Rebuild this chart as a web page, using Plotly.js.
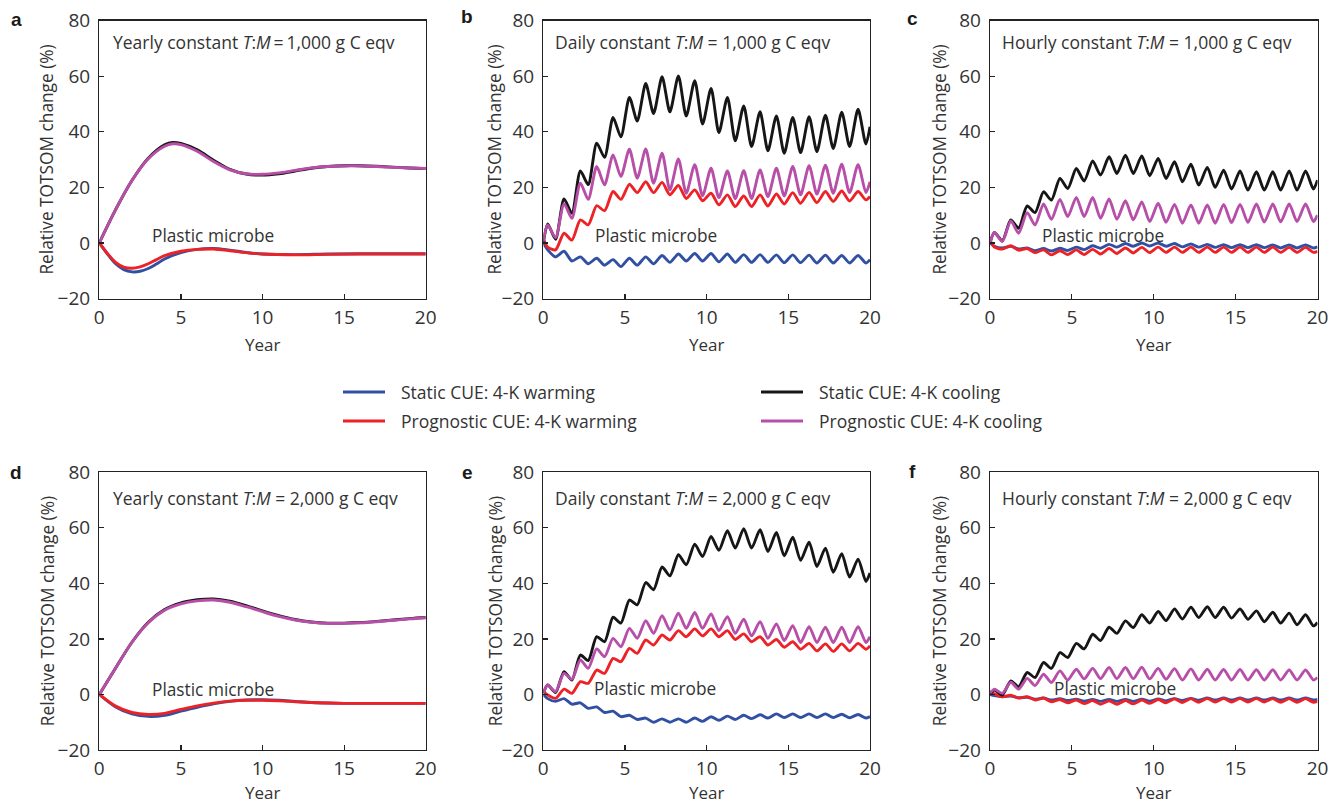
<!DOCTYPE html>
<html>
<head>
<meta charset="utf-8">
<script src="https://cdn.plot.ly/plotly-3.0.1.min.js"></script>
<style>html,body{margin:0;padding:0;background:#fff;}#chart{width:1338px;height:805px;}</style>
</head>
<body>
<div id="chart"></div>
<script>
// ---------- DATA ----------
// Yearly-constant panels (smooth)
var yearA = [0,1,2,3,4,4.5,5,6,7,8,9,10,11,12,13,14,15,16,17,18,19,20];
var aStaticCool = [0,12,22.5,30.5,35.3,36.2,35.8,33.5,29.8,26.5,24.8,24.4,24.9,25.9,26.9,27.5,27.8,27.8,27.6,27.3,27,26.8];
var aProgCool   = [0,12,22.5,30.3,34.8,35.7,35.4,33,29.3,26.3,24.9,24.7,25.2,26.1,27,27.5,27.7,27.7,27.5,27.2,27,26.8];
var yearA2 = [0,0.5,1,1.5,2,2.5,3,3.5,4,5,6,7,8,9,10,12,14,16,18,20];
var aStaticWarm = [0,-4,-7.5,-9.6,-10.4,-10.2,-9.2,-7.6,-5.8,-3.5,-2.3,-2.0,-2.6,-3.4,-4.0,-4.2,-4.0,-3.9,-3.9,-3.9];
var aProgWarm   = [0,-3.8,-7,-8.7,-9.1,-8.6,-7.5,-6,-4.6,-3,-2.3,-2.2,-2.8,-3.5,-4.0,-4.3,-4.1,-4.0,-4.0,-4.0];

var yearD = [0,1,2,3,4,5,6,7,8,9,10,11,12,13,14,15,16,17,18,19,20];
var dStaticCool = [0,9.5,18.8,26,30.6,33.0,34.1,34.4,33.6,32.0,30.1,28.4,27.0,26.1,25.7,25.7,25.9,26.3,26.8,27.3,27.7];
var dProgCool   = [0,9.5,18.8,25.8,30.3,32.6,33.7,34.0,33.2,31.6,29.8,28.1,26.8,26.0,25.6,25.6,25.8,26.2,26.7,27.2,27.6];
var dStaticWarm = [0,-4.5,-7,-7.9,-7.5,-6,-4.6,-3.4,-2.5,-2,-1.9,-2.1,-2.5,-2.9,-3.1,-3.2,-3.2,-3.2,-3.2,-3.2,-3.2];
var dProgWarm   = [0,-4.2,-6.5,-7.2,-6.8,-5.4,-4.1,-3.1,-2.4,-2.1,-2.1,-2.3,-2.6,-2.9,-3.1,-3.2,-3.2,-3.2,-3.2,-3.2,-3.2];

// Seasonal panels: values read at seasonal peaks and troughs
var yearS = [0,0.27,0.75,1.27,1.75,2.27,2.75,3.27,3.75,4.27,4.75,5.27,5.75,6.27,6.75,7.27,7.75,8.27,8.75,9.27,9.75,
             10.27,10.75,11.27,11.75,12.27,12.75,13.27,13.75,14.27,14.75,15.27,15.75,16.27,16.75,17.27,17.75,18.27,18.75,19.27,19.75,20];

var bStaticCool = [0,6.8,1.3,15.8,10.7,25.9,21,35.9,30.8,45.2,38.2,52.4,43.9,57.4,46.6,59.8,47.2,60.1,45.7,58.4,42.8,
                   55.6,39.7,52.4,36.8,49.3,34.7,47.2,33.2,45.7,32.3,45.2,32.5,45.4,32.9,46.0,34.0,47.1,34.7,48.1,35.6,41.8];
var bProgCool   = [0.5,6.5,1.9,14,8.9,21.5,15.7,27.5,20.9,31.7,23.9,33.7,23.3,33.8,21.5,32.3,19.1,30.2,17.9,28.2,17,
                   26.9,16.3,25.9,15.9,26,16,26.3,16.7,26.9,16.9,27.5,17.3,27.8,17.6,28,17.9,28.3,18.1,28.2,18.1,22];
var bProgWarm   = [1.5,-1.5,-2.5,3.5,1,8.3,6.5,13.4,11.6,18.5,15.7,21.1,18.1,22,18.1,21.8,17.3,20.7,16,19.1,15.2,
                   17.9,13.7,17.3,13.1,16.9,13.1,17.3,13.3,17.6,14,18.1,14.3,18.2,14.5,18.5,14.9,18.7,15.1,18.5,15.5,16.7];
var bStaticWarm = [0,-2.5,-5,-3,-6.5,-5,-7.5,-5.5,-8,-6,-8.5,-5.5,-8,-5,-7.5,-4.5,-7,-4,-6.5,-3.8,-6.5,
                   -3.8,-6.8,-4,-7,-4.2,-7,-4.2,-7,-4.3,-7.1,-4.3,-7.1,-4.4,-7.2,-4.4,-7.2,-4.5,-7.2,-4.5,-7.2,-6];

var cStaticCool = [0,3.8,0.8,8.3,5.3,13.3,10.9,18.4,15.4,23.2,19.6,26.8,22.3,29.5,24.4,31,25,31.6,25,31.3,24.2,
                   30.4,23.2,29.2,22,28.3,20.8,27.2,20,26.2,19.4,25.9,19,25.6,19,25.6,19,25.9,19,25.9,19.4,22.6];
var cProgCool   = [0,3.8,0.5,7.9,3.5,10.9,6.5,14,8.5,15.7,9.5,16.4,9.5,16.4,8.9,15.8,8.5,15.2,8.3,14.8,7.7,
                   14.3,7.4,13.9,7.1,13.7,7.1,13.7,7.1,13.9,7.3,13.9,7.4,14,7.5,14,7.6,14,7.7,14,7.7,10];
var cProgWarm   = [1,-1.5,-2.2,-1,-2.6,-2,-3.5,-2.5,-4.3,-2.8,-4.2,-2.5,-4.2,-2.3,-4,-2,-3.8,-1.8,-3.6,-1.6,-3.5,
                   -1.5,-3.4,-1.5,-3.4,-1.5,-3.4,-1.5,-3.4,-1.5,-3.4,-1.5,-3.4,-1.5,-3.4,-1.5,-3.4,-1.6,-3.4,-1.6,-3.4,-3];
var cStaticWarm = [0,-1.2,-1.8,-1.2,-2.2,-1.8,-2.8,-2,-2.9,-1.9,-2.7,-1.5,-2.4,-1,-1.9,-0.5,-1.5,-0.2,-1.2,0,-1.1,
                   0,-1.2,-0.2,-1.4,-0.4,-1.5,-0.5,-1.6,-0.6,-1.7,-0.6,-1.7,-0.6,-1.7,-0.7,-1.8,-0.7,-1.8,-0.7,-1.8,-1.4];

var eStaticCool = [0.5,3.4,0.7,8.2,5.2,14.2,12.2,20.8,19,27.8,25.7,34,32.3,40.3,37.7,45.9,42.7,50.3,46.7,54.1,49.7,
                   56.9,51.9,59,52.7,59.7,52.7,59.3,51.5,58.3,49.9,56.6,48.3,54.8,46.1,52.7,44,50.7,42.3,48.7,40.7,43.7];
var eProgCool   = [0.5,3.4,1,7.6,5.5,12.4,9.4,16.4,13.6,20.2,17.2,23.8,20.2,26.6,22,28.4,23.2,29.3,23.8,29.5,23.8,
                   29,23,28,22,27.1,21.1,26.2,20.2,25.4,19.4,24.8,18.7,24.4,18.7,24.2,18.7,24.2,18.7,24.4,18.7,20.8];
var eProgWarm   = [1,-0.2,-1.4,1.9,0.4,4.6,4,8.8,7.6,13,11.8,16.6,14.8,19.6,17.8,21.4,19.6,23,20.8,23.6,21.1,
                   23.6,20.8,23,19.8,21.8,19,20.8,17.8,19.8,17,19,16.3,18.4,15.7,18.2,15.5,18.2,15.7,18.4,16.3,17.5];
var eStaticWarm = [0,-1.5,-2.5,-1.5,-3.5,-3,-5,-4.5,-6.5,-6,-8,-7.5,-9,-8.5,-10,-8.8,-10,-8.8,-10,-8.5,-9.7,
                   -8,-9.3,-7.8,-9,-7.5,-8.7,-7.3,-8.5,-7,-8.3,-7,-8.3,-7,-8.3,-7,-8.3,-7.1,-8.4,-7.2,-8.5,-8];

var fStaticCool = [0,1.6,-0.2,4.9,2.8,7.9,6.1,11.5,9.4,15.1,13.3,18.4,16.4,21.7,19.4,24.2,22,26.5,24.1,28.7,25.7,
                   29.9,26.6,30.8,27.2,31.4,27.7,31.6,27.7,31.4,27.5,30.8,27.1,30.1,26.2,29.6,25.7,29.3,25.1,28.7,24.7,25.9];
var fProgCool   = [0.5,1.9,0.4,4.4,1.9,5.8,3.2,7.3,4.3,8.5,5.2,9.1,5.6,9.4,5.7,9.7,5.7,9.7,5.7,9.8,5.6,
                   9.4,5.5,9.3,5.2,9.2,5.2,9.1,5.2,9.0,5.2,9.0,5.2,8.9,5.2,8.9,5.2,8.8,5.2,8.8,5.2,6.1];
var fProgWarm   = [1.2,0.2,-0.8,-0.3,-1.3,-0.8,-2,-1.3,-2.6,-1.8,-3,-2,-3.3,-2.2,-3.5,-2.3,-3.5,-2.2,-3.4,-2,-3.2,
                   -1.8,-3,-1.6,-2.9,-1.5,-2.8,-1.4,-2.7,-1.4,-2.7,-1.4,-2.7,-1.4,-2.7,-1.5,-2.8,-1.5,-2.8,-1.5,-2.8,-2.5];
var fStaticWarm = [0,-0.4,-0.8,-0.6,-1.2,-1,-1.7,-1.3,-2,-1.5,-2.2,-1.7,-2.4,-1.8,-2.5,-1.8,-2.5,-1.8,-2.5,-1.7,-2.4,
                   -1.6,-2.3,-1.5,-2.2,-1.4,-2.1,-1.3,-2,-1.3,-2,-1.3,-2,-1.3,-2,-1.3,-2,-1.3,-2,-1.3,-2,-1.8];

var panelLetters = ['a','b','c','d','e','f'];
var panelTitles = [
  'Yearly constant <i>T</i>:<i>M</i>\u2009=\u20091,000 g C eqv',
  'Daily constant <i>T</i>:<i>M</i> = 1,000 g C eqv',
  'Hourly constant <i>T</i>:<i>M</i> = 1,000 g C eqv',
  'Yearly constant <i>T</i>:<i>M</i> = 2,000 g C eqv',
  'Daily constant <i>T</i>:<i>M</i> = 2,000 g C eqv',
  'Hourly constant <i>T</i>:<i>M</i> = 2,000 g C eqv'
];
var seriesNames = ['Static CUE: 4-K warming','Prognostic CUE: 4-K warming','Static CUE: 4-K cooling','Prognostic CUE: 4-K cooling'];
var xTickVals = [0,5,10,15,20];
var yTickVals = [-20,0,20,40,60,80];
var xTitle = 'Year';
var yTitle = 'Relative TOTSOM change (%)';
var annoText = 'Plastic microbe';

// ---------- STYLE / LAYOUT ----------
var W = 1338, H = 805;
var colors = {sw:'#3150a3', pw:'#ec2227', sc:'#161616', pc:'#b74fa8'};
var FONT = 'Open Sans, Liberation Sans, sans-serif';
var TXT = '#333333';

var panels = [
  {x:yearA2, sw:aStaticWarm, xw2:yearA2, pw:aProgWarm, xc:yearA, sc:aStaticCool, pc:aProgCool},
  {x:yearS, sw:bStaticWarm, xw2:yearS, pw:bProgWarm, xc:yearS, sc:bStaticCool, pc:bProgCool},
  {x:yearS, sw:cStaticWarm, xw2:yearS, pw:cProgWarm, xc:yearS, sc:cStaticCool, pc:cProgCool},
  {x:yearD, sw:dStaticWarm, xw2:yearD, pw:dProgWarm, xc:yearD, sc:dStaticCool, pc:dProgCool},
  {x:yearS, sw:eStaticWarm, xw2:yearS, pw:eProgWarm, xc:yearS, sc:eStaticCool, pc:eProgCool},
  {x:yearS, sw:fStaticWarm, xw2:yearS, pw:fProgWarm, xc:yearS, sc:fStaticCool, pc:fProgCool}
];

// pixel boxes of the plot areas
var colPx = [[99.3,425.7],[543.3,870],[990,1317.5]];
var rowPx = [[20.7,298.5],[472.3,750]];
var letterPx = [[16,19],[467,17],[912,18],[16,472],[467,472],[912,471]];
var yTitlePxX = [47,495,940,47,495,939];
var plasticPos = [[3.1,2.8],[3.02,2.8],[3.07,2.8],[3.1,1.9],[3.0,2.0],[3.76,2.0]];
var titlePos = [[0.72,72.2],[0.61,72.2],[0.63,72.2],[0.72,70.9],[0.61,70.9],[0.6,70.9]];
var xTitleY = [344, 792];

var data = [];
var layout = {
  width: W, height: H,
  margin: {l:0, r:0, t:0, b:0},
  paper_bgcolor: '#fff', plot_bgcolor: '#fff',
  showlegend: false,
  font: {family: FONT, color: TXT, size: 17},
  annotations: [], shapes: []
};

panels.forEach(function(p, i){
  var n = i + 1;
  var xa = n === 1 ? 'x' : 'x' + n;
  var ya = n === 1 ? 'y' : 'y' + n;
  var lw = 2.9;
  var sm = (i === 0 || i === 3) ? 1 : 0.7;
  var tr = [
    {x:p.x, y:p.sw, c:colors.sw, nm:seriesNames[0]},
    {x:p.xw2, y:p.pw, c:colors.pw, nm:seriesNames[1]},
    {x:p.xc, y:p.sc, c:colors.sc, nm:seriesNames[2]},
    {x:p.xc, y:p.pc, c:colors.pc, nm:seriesNames[3]}
  ];
  tr.forEach(function(t){
    data.push({x:t.x, y:t.y, xaxis:xa, yaxis:ya, type:'scatter', mode:'lines', name:t.nm,
      line:{color:t.c, width:lw, shape:'spline', smoothing:sm}, hoverinfo:'skip'});
  });
  var col = colPx[i % 3], row = rowPx[Math.floor(i / 3)];
  var axX = {
    domain:[col[0]/W, col[1]/W], range:[0,20], tickvals:xTickVals, ticks:'inside', ticklen:5, tickwidth:1.2,
    tickcolor:'#222', showline:true, linecolor:'#222', linewidth:1.3, mirror:true, showgrid:false, zeroline:false,
    anchor: ya, tickfont:{size:19, color:TXT, family:FONT}, ticklabelstandoff:1, fixedrange:true
  };
  var axY = {
    domain:[1 - row[1]/H, 1 - row[0]/H], range:[-20,80], tickvals:yTickVals, ticks:'inside', ticklen:5, tickwidth:1.2,
    tickcolor:'#222', showline:true, linecolor:'#222', linewidth:1.3, mirror:true, showgrid:false, zeroline:false,
    anchor: xa, tickfont:{size:19, color:TXT, family:FONT}, ticklabelstandoff:4, fixedrange:true
  };
  layout['xaxis' + (n === 1 ? '' : n)] = axX;
  layout['yaxis' + (n === 1 ? '' : n)] = axY;

  // panel letter
  layout.annotations.push({xref:'paper', yref:'paper', x:letterPx[i][0]/W, y:1 - letterPx[i][1]/H,
    xanchor:'center', yanchor:'middle', showarrow:false, text:'<b>' + panelLetters[i] + '</b>',
    font:{family:'Liberation Sans, Arial, sans-serif', size:19, color:'#1a1a1a'}});
  // in-panel title
  layout.annotations.push({xref:xa, yref:ya, x:titlePos[i][0], y:titlePos[i][1], xanchor:'left', yanchor:'middle',
    showarrow:false, text:panelTitles[i], font:{family:FONT, size:17.5, color:TXT}});
  // plastic microbe label
  layout.annotations.push({xref:xa, yref:ya, x:plasticPos[i][0], y:plasticPos[i][1], xanchor:'left', yanchor:'middle',
    showarrow:false, text:annoText, font:{family:FONT, size:17.3, color:TXT}});
  // axis titles
  layout.annotations.push({xref:'paper', yref:'paper', x:yTitlePxX[i]/W, y:1 - ((row[0]+row[1])/2)/H,
    xanchor:'center', yanchor:'middle', textangle:-90, showarrow:false, text:yTitle, font:{family:FONT, size:17.3, color:TXT}});
  layout.annotations.push({xref:xa + ' domain', yref:'paper', x:0.5, y:1 - xTitleY[Math.floor(i / 3)]/H,
    xanchor:'center', yanchor:'middle', showarrow:false, text:xTitle, font:{family:FONT, size:17, color:TXT}});
});

// legend (manual, 2 x 2)
var legItems = [
  {c:colors.sw, t:seriesNames[0], x0:343, y:392},
  {c:colors.pw, t:seriesNames[1], x0:343, y:421},
  {c:colors.sc, t:seriesNames[2], x0:761, y:392},
  {c:colors.pc, t:seriesNames[3], x0:761, y:421}
];
legItems.forEach(function(L){
  layout.shapes.push({type:'line', xref:'paper', yref:'paper', x0:L.x0/W, x1:(L.x0+42)/W, y0:1-L.y/H, y1:1-L.y/H,
    line:{color:L.c, width:2.9}});
  layout.annotations.push({xref:'paper', yref:'paper', x:(L.x0+56)/W, y:1-L.y/H, xanchor:'left', yanchor:'middle',
    showarrow:false, text:L.t, font:{family:FONT, size:17.5, color:TXT}});
});

Plotly.newPlot('chart', data, layout, {displayModeBar:false, staticPlot:true});
</script>
</body>
</html>
